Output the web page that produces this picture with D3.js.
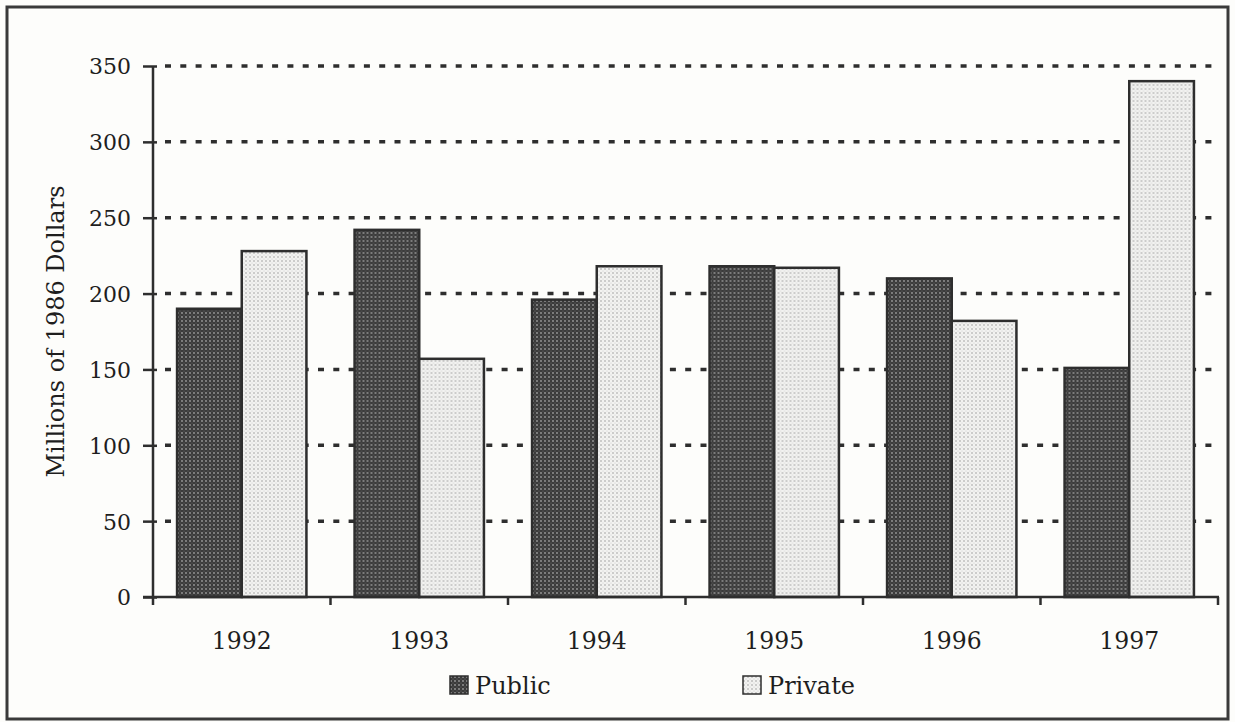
<!DOCTYPE html>
<html>
<head>
<meta charset="utf-8">
<script src="https://cdn.jsdelivr.net/npm/d3@7"></script>
<style>
  body { margin: 0; background: #fdfdfb; }
  svg { display: block; }
  text { font-family: "DejaVu Serif", serif; fill: #1e1e1e; }
</style>
</head>
<body>
<svg id="chart"></svg>
<script>
// data -------------------------------------
var years = ["1992", "1993", "1994", "1995", "1996", "1997"];
var series = ["Public", "Private"];
var publicVals = [190, 242, 196, 218, 210, 151];
var privateVals = [228, 157, 218, 217, 182, 340];
var yTicks = [0, 50, 100, 150, 200, 250, 300, 350];

var width = 1235;
var height = 722;
var ink = "#2e2e2e";

var svg = d3.select("#chart").attr("width", width).attr("height", height);

// patterns for the halftone fills
var defs = svg.append("defs");
var pPub = defs.append("pattern").attr("id", "patPublic")
  .attr("width", 4).attr("height", 4).attr("patternUnits", "userSpaceOnUse");
pPub.append("rect").attr("width", 4).attr("height", 4).attr("fill", "#3b3b3b");
pPub.append("circle").attr("cx", 1).attr("cy", 1).attr("r", 0.9).attr("fill", "#9a9a9a");
pPub.append("circle").attr("cx", 3).attr("cy", 3).attr("r", 0.6).attr("fill", "#6a6a6a");

var pPri = defs.append("pattern").attr("id", "patPrivate")
  .attr("width", 4).attr("height", 4).attr("patternUnits", "userSpaceOnUse");
pPri.append("rect").attr("width", 4).attr("height", 4).attr("fill", "#f2f2f0");
pPri.append("circle").attr("cx", 1).attr("cy", 1).attr("r", 0.8).attr("fill", "#9c9c9c");
pPri.append("circle").attr("cx", 3).attr("cy", 3).attr("r", 0.5).attr("fill", "#c4c4c4");

var fills = { Public: "url(#patPublic)", Private: "url(#patPrivate)" };

// frame
svg.append("rect")
  .attr("x", 7).attr("y", 7)
  .attr("width", 1221).attr("height", 712)
  .attr("fill", "none").attr("stroke", "#3a3a3a").attr("stroke-width", 3);

// scales -------------------------------------
var x = d3.scaleBand().domain(years).range([153, 1218]).paddingInner(0).paddingOuter(0);
var x1 = d3.scaleBand().domain(series).range([0, x.bandwidth()]).paddingInner(0).paddingOuter(0.372);
var y = d3.scaleLinear().domain([0, 350]).range([597, 66]);

// gridlines
svg.append("g").selectAll("line")
  .data(yTicks.filter(function(d) { return d > 0; }))
  .enter().append("line")
  .attr("x1", 165).attr("x2", 1220)
  .attr("y1", function(d) { return y(d); })
  .attr("y2", function(d) { return y(d); })
  .attr("stroke", ink).attr("stroke-width", 3.5)
  .attr("stroke-dasharray", "6,9.3");

// bars
var rows = years.map(function(yr, i) {
  return { year: yr, Public: publicVals[i], Private: privateVals[i] };
});

svg.append("g").selectAll("g")
  .data(rows)
  .enter().append("g")
  .attr("transform", function(d) { return "translate(" + x(d.year) + ",0)"; })
  .selectAll("rect")
  .data(function(d) { return series.map(function(s) { return { key: s, value: d[s] }; }); })
  .enter().append("rect")
  .attr("x", function(d) { return x1(d.key); })
  .attr("width", x1.bandwidth())
  .attr("y", function(d) { return y(d.value); })
  .attr("height", function(d) { return y(0) - y(d.value); })
  .attr("fill", function(d) { return fills[d.key]; })
  .attr("stroke", ink).attr("stroke-width", 2.5);

// y axis -------------------------------------
var yAxis = svg.append("g")
  .attr("transform", "translate(153,0)")
  .call(d3.axisLeft(y).tickValues(yTicks).tickSize(10).tickPadding(12));
yAxis.select(".domain").remove();
yAxis.selectAll(".tick line").attr("x1", 4).attr("x2", -10)
  .attr("stroke", ink).attr("stroke-width", 2.5);
yAxis.selectAll(".tick text").attr("font-size", 22)
  .attr("font-family", "DejaVu Serif").attr("fill", "#1e1e1e").attr("dy", "0.36em");
svg.append("line")
  .attr("x1", 153).attr("x2", 153).attr("y1", y(350)).attr("y2", y(0) + 8)
  .attr("stroke", ink).attr("stroke-width", 2.5);

// x axis
svg.append("line")
  .attr("x1", 143).attr("x2", 1219).attr("y1", y(0)).attr("y2", y(0))
  .attr("stroke", ink).attr("stroke-width", 2.5);
var bounds = years.map(function(d) { return x(d); }).concat([x.range()[1]]);
svg.append("g").selectAll("line")
  .data(bounds.slice(1))
  .enter().append("line")
  .attr("x1", function(d) { return d; }).attr("x2", function(d) { return d; })
  .attr("y1", y(0)).attr("y2", y(0) + 8)
  .attr("stroke", ink).attr("stroke-width", 2.5);

var xAxis = svg.append("g")
  .attr("transform", "translate(0," + y(0) + ")")
  .call(d3.axisBottom(x).tickSize(0).tickPadding(35));
xAxis.select(".domain").remove();
xAxis.selectAll(".tick text").attr("font-size", 23.5)
  .attr("font-family", "DejaVu Serif").attr("fill", "#1e1e1e");

// y label
svg.append("text")
  .attr("transform", "translate(64," + ((y(0) + y(350)) / 2) + ") rotate(-90)")
  .attr("text-anchor", "middle")
  .attr("font-size", 24)
  .text("Millions of 1986 Dollars");

// legend -------------------------------------
var legendX = [450, 743];
var legend = svg.append("g").selectAll("g")
  .data(series)
  .enter().append("g")
  .attr("transform", function(d, i) { return "translate(" + legendX[i] + ",676)"; });
legend.append("rect")
  .attr("width", 18).attr("height", 18)
  .attr("fill", function(d) { return fills[d]; })
  .attr("stroke", ink).attr("stroke-width", 1.5);
legend.append("text")
  .attr("x", 25).attr("y", 18)
  .attr("font-size", 24)
  .text(function(d) { return d; });
</script>
</body>
</html>
